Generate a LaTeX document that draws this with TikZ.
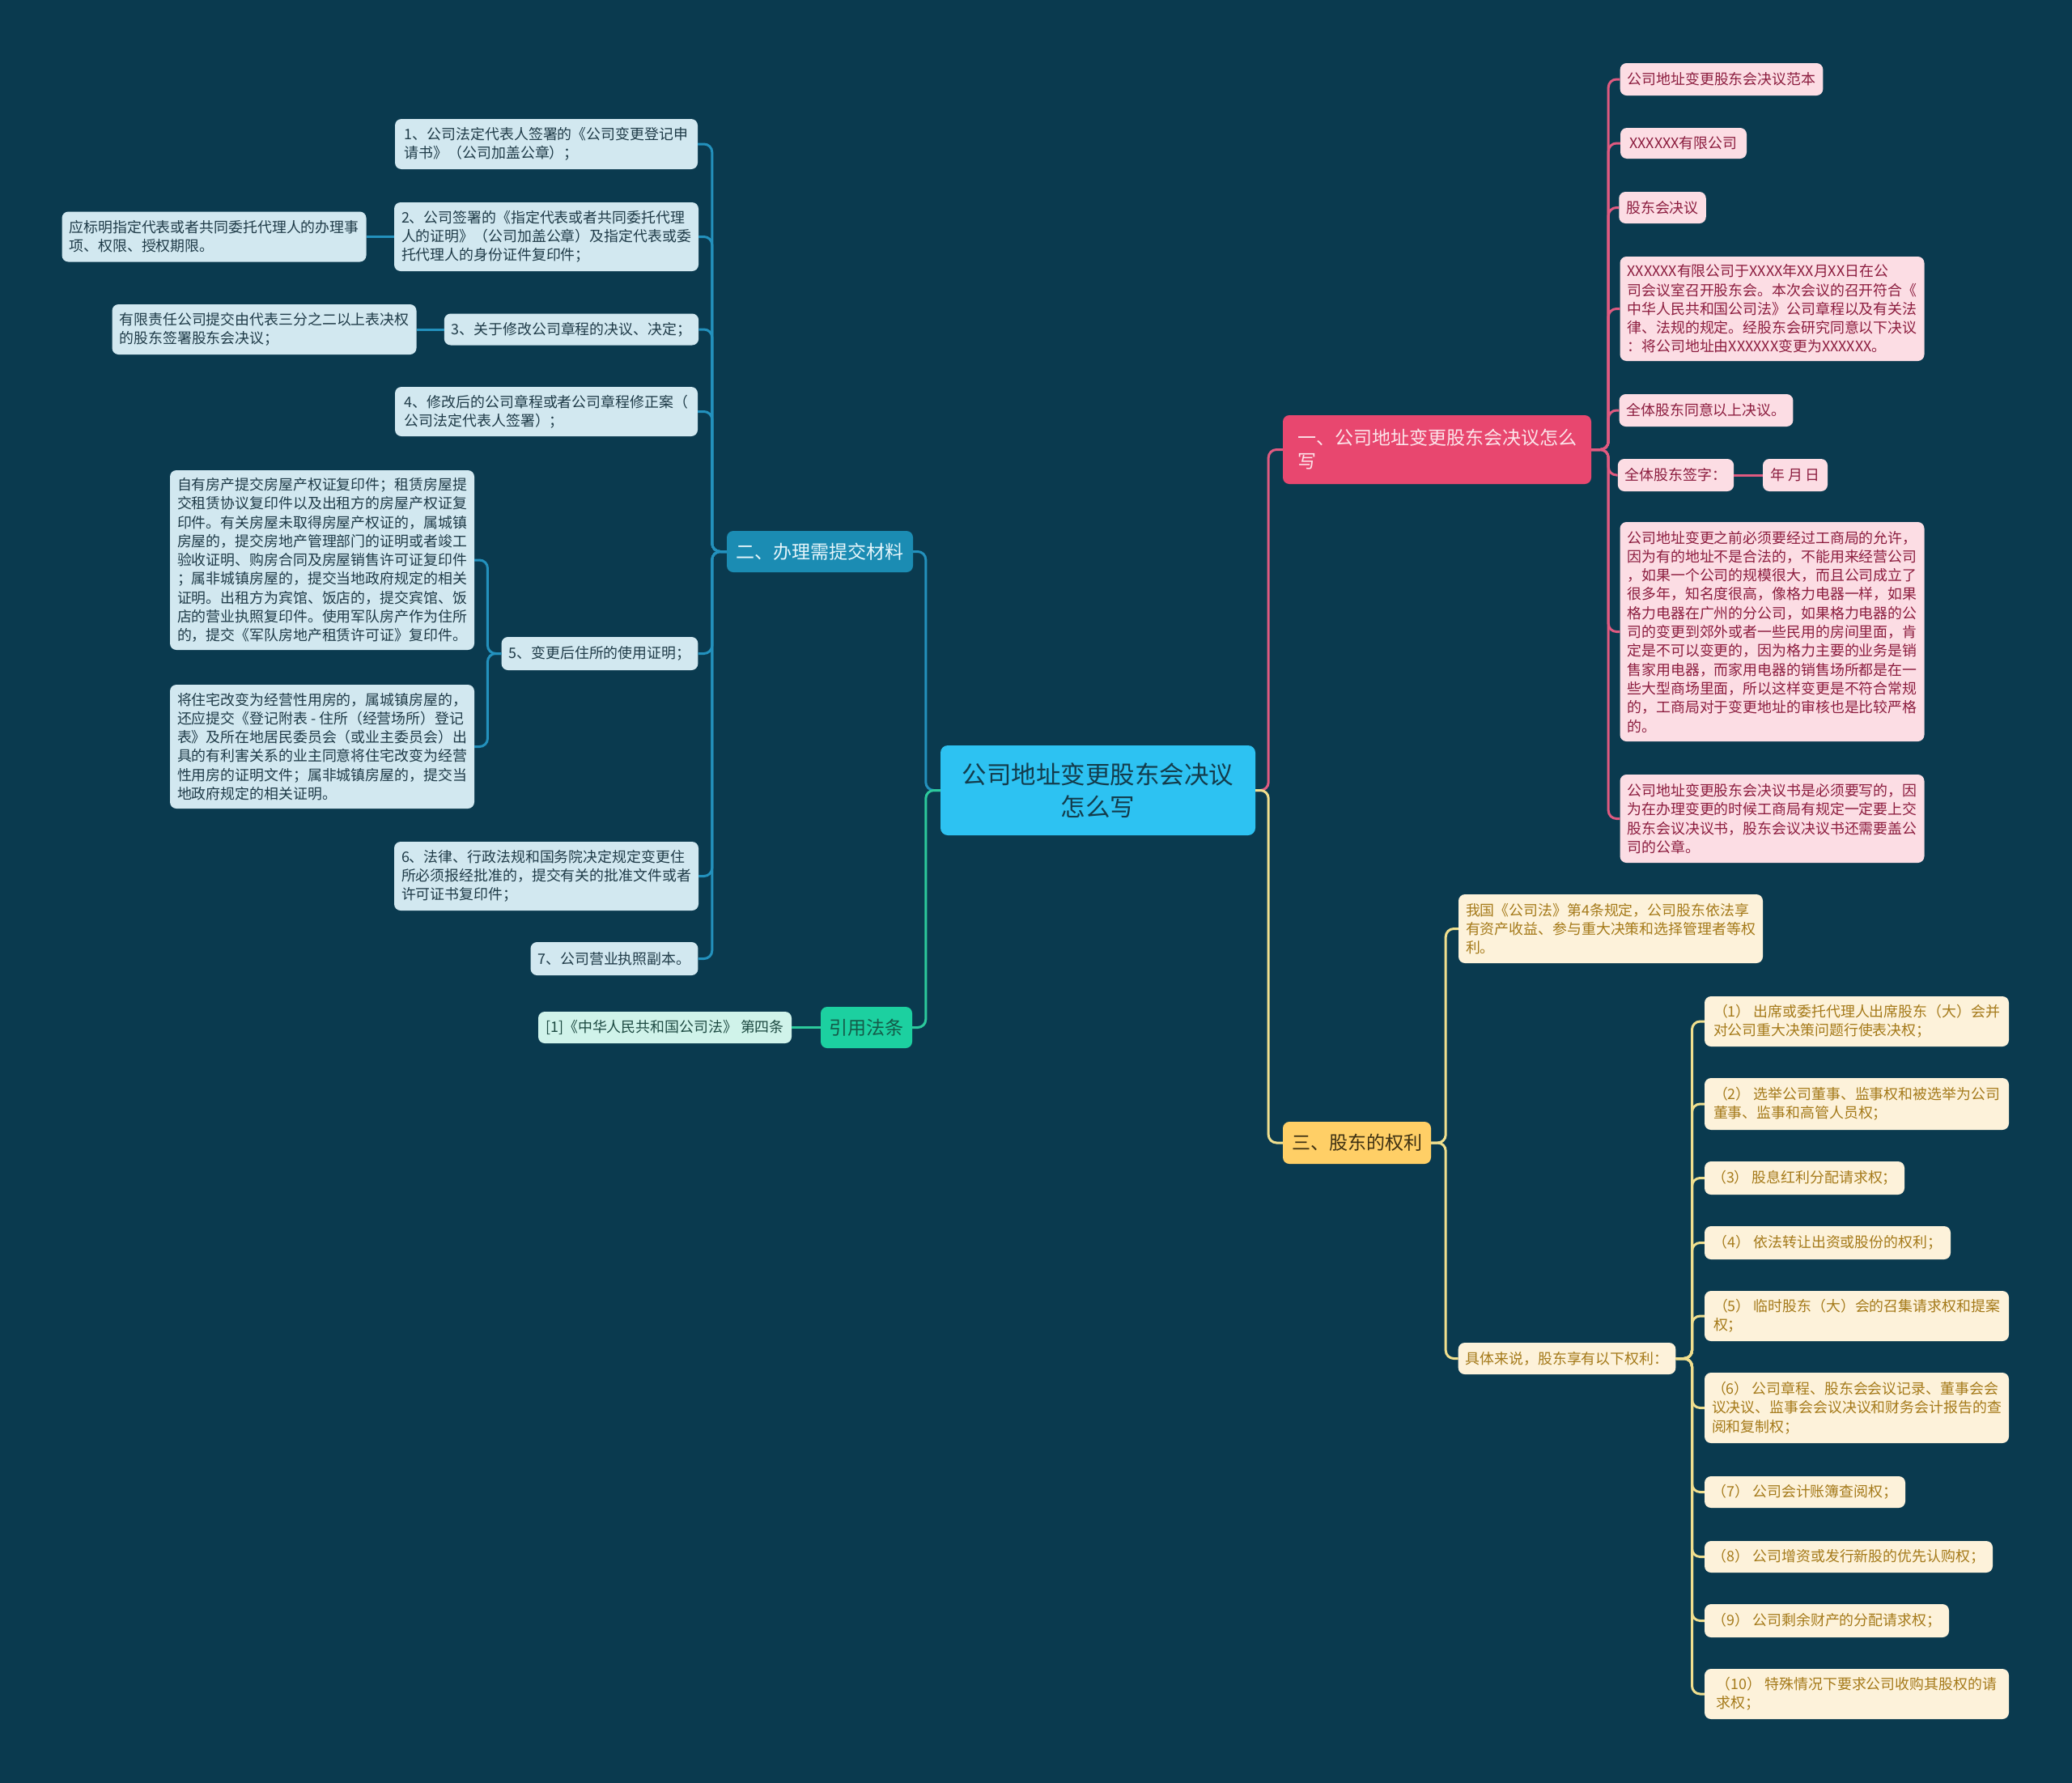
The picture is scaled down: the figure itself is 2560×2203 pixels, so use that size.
\documentclass[tikz,border=0pt]{standalone}
\usepackage{fontspec}
\setmainfont{Noto Sans CJK SC}
\definecolor{bg}{HTML}{0A3A4F}
\definecolor{rootfill}{HTML}{2DC2F2}
\definecolor{roottext}{HTML}{133C4C}
\definecolor{pkfill}{HTML}{E8476F}
\definecolor{pktext}{HTML}{FCE4EA}
\definecolor{pkcfill}{HTML}{FCDDE4}
\definecolor{pkctext}{HTML}{8C1D3F}
\definecolor{pkline}{HTML}{E05A80}
\definecolor{blfill}{HTML}{1B8CB3}
\definecolor{bltext}{HTML}{E6F6FB}
\definecolor{blcfill}{HTML}{D2E8F0}
\definecolor{blctext}{HTML}{1F3B48}
\definecolor{blline}{HTML}{2391BD}
\definecolor{grfill}{HTML}{1CD0A0}
\definecolor{grtext}{HTML}{145A48}
\definecolor{grcfill}{HTML}{D0F3EA}
\definecolor{grctext}{HTML}{1D4A42}
\definecolor{grline}{HTML}{2CC99C}
\definecolor{ylfill}{HTML}{FFCF66}
\definecolor{yltext}{HTML}{3D3012}
\definecolor{ylcfill}{HTML}{FDF2DA}
\definecolor{ylctext}{HTML}{A57A1A}
\definecolor{ylline}{HTML}{F0DF8E}
\begin{document}
\begin{tikzpicture}[x=1pt,y=-1pt,
  box/.style={rounded corners=8pt, inner xsep=9pt, inner ysep=0pt, align=left, anchor=center,
    font=\fontsize{17.9}{23.3}\selectfont},
  sz/.style n args={2}{minimum width=#1pt, minimum height=#2pt},
  rootbox/.style={rounded corners=9pt, fill=rootfill, text=roottext, align=center,
    font=\fontsize{30.5}{40}\selectfont, inner sep=0pt},
  branch/.style={rounded corners=8pt, inner xsep=9pt, inner ysep=0pt, align=left,
    font=\fontsize{23}{29}\selectfont},
  pkb/.style={branch, fill=pkfill, text=pktext},
  blb/.style={branch, fill=blfill, text=bltext},
  grb/.style={branch, fill=grfill, text=grtext},
  ylb/.style={branch, fill=ylfill, text=yltext},
  pkc/.style={box, fill=pkcfill, text=pkctext},
  blc/.style={box, fill=blcfill, text=blctext},
  grc/.style={box, fill=grcfill, text=grctext},
  ylc/.style={box, fill=ylcfill, text=ylctext},
  conn/.style={line width=3pt, rounded corners=10pt},
  pkl/.style={conn, draw=pkline},
  bll/.style={conn, draw=blline},
  grl/.style={conn, draw=grline},
  yll/.style={conn, draw=ylline}
]
\fill[bg] (0,0) rectangle (2560,2203);
\useasboundingbox (0,0) rectangle (2560,2203);

% root and main branches
\node[rootbox, sz={389}{111}] (root) at (1356.5,976.5) {公司地址变更股东会决议\\怎么写};
\node[pkb, sz={381}{85}] (yi) at (1775.5,555.5) {一、公司地址变更股东会决议怎么\\写};
\node[blb, sz={230}{51}] (er) at (1013,681.5) {二、办理需提交材料};
\node[grb, sz={113}{51}] (yy) at (1070.5,1269.5) {引用法条};
\node[ylb, sz={183}{52}] (san) at (1676.5,1412) {三、股东的权利};

% blue children
\node[blc, sz={374}{62}] (b1) at (675,178) {1、公司法定代表人签署的《公司变更登记申\\请书》（公司加盖公章）；};
\node[blc, sz={374}{85}] (b2) at (675,292.5) {2、公司签署的《指定代表或者共同委托代理\\人的证明》（公司加盖公章）及指定代表或委\\托代理人的身份证件复印件；};
\node[blc, sz={375}{62}] (b2a) at (264.5,292.5) {应标明指定代表或者共同委托代理人的办理事\\项、权限、授权期限。};
\node[blc, sz={312}{39}] (b3) at (706,407) {3、关于修改公司章程的决议、决定；};
\node[blc, sz={375}{62}] (b3a) at (326.5,407) {有限责任公司提交由代表三分之二以上表决权\\的股东签署股东会决议；};
\node[blc, sz={374}{61}] (b4) at (675,508.5) {4、修改后的公司章程或者公司章程修正案（\\公司法定代表人签署）；};
\node[blc, sz={242}{41}] (b5) at (741,807.5) {5、变更后住所的使用证明；};
\node[blc, sz={374}{222}] (b5a) at (398,692) {自有房产提交房屋产权证复印件；租赁房屋提\\交租赁协议复印件以及出租方的房屋产权证复\\印件。有关房屋未取得房屋产权证的，属城镇\\房屋的，提交房地产管理部门的证明或者竣工\\验收证明、购房合同及房屋销售许可证复印件\\；属非城镇房屋的，提交当地政府规定的相关\\证明。出租方为宾馆、饭店的，提交宾馆、饭\\店的营业执照复印件。使用军队房产作为住所\\的，提交《军队房地产租赁许可证》复印件。};
\node[blc, sz={374}{153}] (b5b) at (398,922.5) {将住宅改变为经营性用房的，属城镇房屋的，\\还应提交《登记附表 - 住所（经营场所）登记\\表》及所在地居民委员会（或业主委员会）出\\具的有利害关系的业主同意将住宅改变为经营\\性用房的证明文件；属非城镇房屋的，提交当\\地政府规定的相关证明。};
\node[blc, sz={374}{85}] (b6) at (675,1082.5) {6、法律、行政法规和国务院决定规定变更住\\所必须报经批准的，提交有关的批准文件或者\\许可证书复印件；};
\node[blc, sz={206}{41}] (b7) at (759,1184.5) {7、公司营业执照副本。};
\node[grc, sz={313}{39}] (g1) at (821.5,1269.5) {[1]《中华人民共和国公司法》 第四条};

% pink children
\node[pkc, sz={250}{40}] (r1) at (2127,98) {公司地址变更股东会决议范本};
\node[pkc, sz={156}{38}] (r2) at (2080,177) {XXXXXX有限公司};
\node[pkc, sz={104}{39}] (r3) at (2054,256.5) {股东会决议};
\node[pkc, sz={375}{129}] (r4) at (2189.5,381.5) {XXXXXX有限公司于XXXX年XX月XX日在公\\司会议室召开股东会。本次会议的召开符合《\\中华人民共和国公司法》公司章程以及有关法\\律、法规的规定。经股东会研究同意以下决议\\：将公司地址由XXXXXX变更为XXXXXX。};
\node[pkc, sz={212}{40}] (r5) at (2108,507) {全体股东同意以上决议。};
\node[pkc, sz={137}{40}] (r6) at (2070.5,587) {全体股东签字：};
\node[pkc, sz={80}{40}] (r6a) at (2218,587) {年 月 日};
\node[pkc, sz={375}{271}] (r7) at (2189.5,780.5) {公司地址变更之前必须要经过工商局的允许，\\因为有的地址不是合法的，不能用来经营公司\\，如果一个公司的规模很大，而且公司成立了\\很多年，知名度很高，像格力电器一样，如果\\格力电器在广州的分公司，如果格力电器的公\\司的变更到郊外或者一些民用的房间里面，肯\\定是不可以变更的，因为格力主要的业务是销\\售家用电器，而家用电器的销售场所都是在一\\些大型商场里面，所以这样变更是不符合常规\\的，工商局对于变更地址的审核也是比较严格\\的。};
\node[pkc, sz={375}{109}] (r8) at (2189.5,1011.5) {公司地址变更股东会决议书是必须要写的，因\\为在办理变更的时候工商局有规定一定要上交\\股东会议决议书，股东会议决议书还需要盖公\\司的公章。};

% yellow children
\node[ylc, sz={376}{85}] (y1) at (1990,1147.5) {我国《公司法》第4条规定，公司股东依法享\\有资产收益、参与重大决策和选择管理者等权\\利。};
\node[ylc, sz={268}{39}] (y2) at (1936,1678.5) {具体来说，股东享有以下权利：};
\node[ylc, sz={376}{62}] (c1) at (2294,1262) {（1） 出席或委托代理人出席股东（大）会并\\对公司重大决策问题行使表决权；};
\node[ylc, sz={376}{64}] (c2) at (2294,1364) {（2） 选举公司董事、监事权和被选举为公司\\董事、监事和高管人员权；};
\node[ylc, sz={247}{41}] (c3) at (2229.5,1455.5) {（3） 股息红利分配请求权；};
\node[ylc, sz={304}{41}] (c4) at (2258,1535.5) {（4） 依法转让出资或股份的权利；};
\node[ylc, sz={376}{62}] (c5) at (2294,1626) {（5） 临时股东（大）会的召集请求权和提案\\权；};
\node[ylc, sz={376}{87}] (c6) at (2294,1739.5) {（6） 公司章程、股东会会议记录、董事会会\\议决议、监事会会议决议和财务会计报告的查\\阅和复制权；};
\node[ylc, sz={248}{39}] (c7) at (2230,1843.5) {（7） 公司会计账簿查阅权；};
\node[ylc, sz={356}{39}] (c8) at (2284,1923.5) {（8） 公司增资或发行新股的优先认购权；};
\node[ylc, sz={302}{41}] (c9) at (2257,2002.5) {（9） 公司剩余财产的分配请求权；};
\node[ylc, sz={376}{62}] (c10) at (2294,2093) {（10） 特殊情况下要求公司收购其股权的请\\求权；};

% connectors from root
\draw[bll] (root.west) -- ++(-18,0) |- (er.east);
\draw[grl] (root.west) -- ++(-18,0) |- (yy.east);
\draw[pkl] (root.east) -- ++(16,0) |- (yi.west);
\draw[yll] (root.east) -- ++(16,0) |- (san.west);

% blue branch
\foreach \c in {b1,b2,b3,b4,b5,b6,b7}
  \draw[bll] (er.west) -- ++(-18,0) |- (\c.east);
\draw[bll] (b2.west) -- (b2a.east);
\draw[bll] (b3.west) -- (b3a.east);
\draw[bll] (b5.west) -- ++(-17,0) |- (b5a.east);
\draw[bll] (b5.west) -- ++(-17,0) |- (b5b.east);

% green branch
\draw[grl] (yy.west) -- (g1.east);

% pink branch
\foreach \c in {r1,r2,r3,r4,r5,r6,r7,r8}
  \draw[pkl] (yi.east) -- ++(21,0) |- (\c.west);
\draw[pkl] (r6.east) -- (r6a.west);

% yellow branch
\draw[yll] (san.east) -- ++(18,0) |- (y1.west);
\draw[yll] (san.east) -- ++(18,0) |- (y2.west);
\foreach \c in {c1,c2,c3,c4,c5,c6,c7,c8,c9,c10}
  \draw[yll] (y2.east) -- ++(20,0) |- (\c.west);
\end{tikzpicture}
\end{document}
